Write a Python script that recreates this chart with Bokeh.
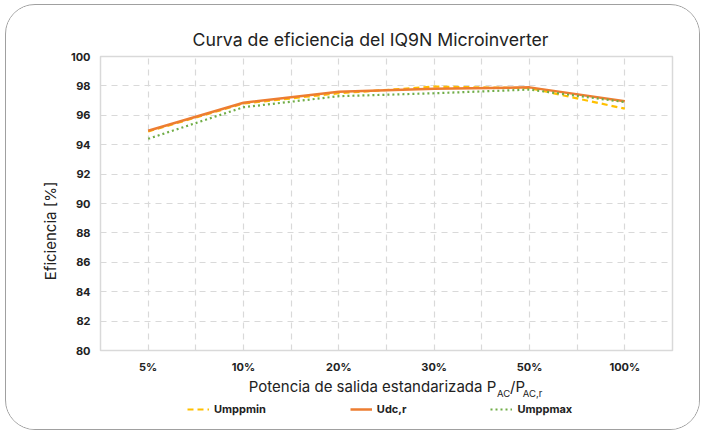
from bokeh.plotting import figure
from bokeh.models import FixedTicker, Legend, LegendItem, LinearAxis
from bokeh.layouts import column
from bokeh.embed import file_html
from bokeh.resources import INLINE

categories = ["5%", "10%", "20%", "30%", "50%", "100%"]
umppmin = [94.9, 96.8, 97.5, 97.95, 97.85, 96.45]
udc_r = [94.95, 96.85, 97.6, 97.8, 97.9, 96.95]
umppmax = [94.4, 96.55, 97.3, 97.5, 97.75, 96.9]
y_ticks = [80, 82, 84, 86, 88, 90, 92, 94, 96, 98, 100]
series_names = ["Umppmin", "Udc,r", "Umppmax"]
title_text = "Curva de eficiencia del IQ9N Microinverter"
y_title = "Eficiencia [%]"
x_title_main = ["Potencia de salida estandarizada P", "/P"]
x_title_sub = ["AC", "AC,r"]

xs = [i + 0.5 for i in range(len(categories))]

FONT = "Inter"
TXT = "#222222"
COLORS = ["#FFC000", "#ED7D31", "#70AD47"]
WIDTHS = [2.2, 2.5, 2.2]
DASHES = ["6 4", "solid", "2 3"]

FRAME_L, FRAME_T, FRAME_W, FRAME_H = 101, 57, 572, 295
W = 693
H_MAIN = 396
H_LEG = 28


def px_to_x(px):
    return (px - FRAME_L) / (FRAME_W / len(categories))


def py_to_y(py):
    return 100 - (py - FRAME_T) / (FRAME_H / 20)


p = figure(width=W, height=H_MAIN, output_backend="svg", toolbar_location=None,
           x_range=(0, len(categories)), y_range=(80, 100),
           min_border_left=94, min_border_right=W - 94 - FRAME_W, min_border_top=51,
           min_border_bottom=H_MAIN - 51 - FRAME_H)
p.background_fill_color = "white"
p.border_fill_color = "white"
p.outline_line_color = "#d9d9d9"
p.outline_line_width = 1.5

p.title.text = title_text
p.title.align = "left"
p.title.offset = 92
p.title.standoff = 14
p.title.text_font = FONT
p.title.text_font_size = "17.7px"
p.title.text_font_style = "normal"
p.title.text_color = TXT


def plain_axis(ax):
    ax.axis_line_color = None
    ax.major_tick_line_color = None
    ax.minor_tick_line_color = None
    ax.major_tick_out = 0
    ax.major_tick_in = 0
    ax.minor_tick_out = 0
    ax.minor_tick_in = 0
    ax.major_label_text_font = FONT
    ax.major_label_text_color = TXT


# main axes
p.xaxis.ticker = FixedTicker(ticks=xs)
p.xaxis.major_label_overrides = {x: c for x, c in zip(xs, categories)}
p.yaxis.ticker = FixedTicker(ticks=y_ticks)
for ax in (p.xaxis[0], p.yaxis[0]):
    plain_axis(ax)
    ax.major_label_text_font_style = "bold"
    ax.major_label_text_font_size = "11px"
p.xaxis.major_label_standoff = 9
p.yaxis.major_label_standoff = 10

# y title as an outer left axis
y_title_pos = py_to_y(232)
ay = LinearAxis(ticker=FixedTicker(ticks=[y_title_pos]),
                major_label_overrides={y_title_pos: y_title},
                major_label_orientation="vertical", major_label_standoff=7)
plain_axis(ay)
ay.major_label_text_font_size = "15px"
p.add_layout(ay, "left")

# x title (with subscripts) as outer bottom axes
main_pos = [px_to_x(373), px_to_x(518)]
ax_main = LinearAxis(ticker=FixedTicker(ticks=main_pos),
                     major_label_overrides={k: t for k, t in zip(main_pos, x_title_main)},
                     major_label_standoff=0)
plain_axis(ax_main)
ax_main.major_label_text_font_size = "15px"
p.add_layout(ax_main, "below")

sub_pos = [px_to_x(504), px_to_x(533)]
ax_sub = LinearAxis(ticker=FixedTicker(ticks=sub_pos),
                    major_label_overrides={k: t for k, t in zip(sub_pos, x_title_sub)},
                    major_label_standoff=-11)
plain_axis(ax_sub)
ax_sub.major_label_text_font_size = "9.5px"
p.add_layout(ax_sub, "below")

# grids
p.xgrid.ticker = FixedTicker(ticks=[0.5 * i for i in range(1, 2 * len(categories))])
p.ygrid.ticker = FixedTicker(ticks=y_ticks[1:-1])
for g in (p.xgrid[0], p.ygrid[0]):
    g.grid_line_color = "#d9d9d9"
    g.grid_line_dash = "6 5"
    g.grid_line_width = 1.2

for vals, c, w, d in zip([umppmin, udc_r, umppmax], COLORS, WIDTHS, DASHES):
    p.line(xs, vals, line_color=c, line_width=w, line_dash=d)

# legend strip (separate, borderless figure under the chart)
p2 = figure(width=W, height=H_LEG, output_backend="svg", toolbar_location=None,
            x_range=(0, 1), y_range=(0, 1), x_axis_type=None, y_axis_type=None,
            min_border=0, outline_line_color=None)
p2.grid.visible = False
p2.background_fill_color = "white"
p2.border_fill_color = "white"
items = []
for name, c, w, d in zip(series_names, COLORS, WIDTHS, DASHES):
    r = p2.line([-5, -4], [-5, -4], line_color=c, line_width=w, line_dash=d)
    items.append(LegendItem(label=name, renderers=[r]))
legend = Legend(items=items, orientation="horizontal", location=(87, 13),
                spacing=84, padding=0, margin=0, glyph_width=22, glyph_height=12,
                label_height=12, label_standoff=5, background_fill_alpha=0,
                border_line_color=None, label_text_font=FONT, label_text_font_style="bold",
                label_text_font_size="11px", label_text_color=TXT)
p2.add_layout(legend, "center")

layout = column(p, p2, spacing=0)
layout.styles = {"border": "1.5px solid #a0a0a0", "border-radius": "30px",
                 "margin-left": "5px", "margin-top": "4px", "overflow": "hidden",
                 "background-color": "white"}

open("out.html", "w").write(file_html(layout, INLINE))
